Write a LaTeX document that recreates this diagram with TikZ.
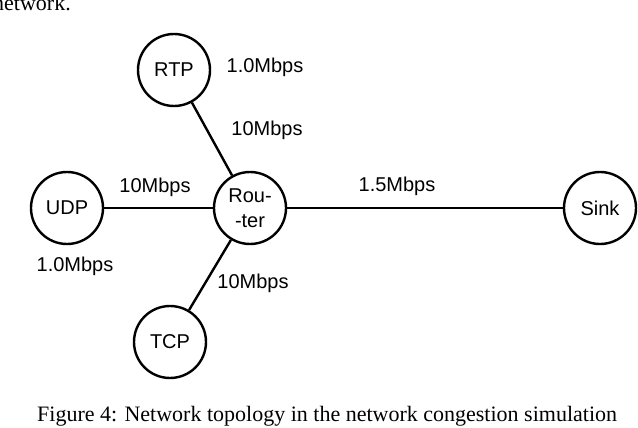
\documentclass[tikz,border=0pt]{standalone}
\usepackage{fontspec}
\setmainfont{Liberation Sans}
\newfontfamily\capfont{Liberation Serif}
\begin{document}
\begin{tikzpicture}[x=1pt,y=-1pt,
  host/.style={circle,draw,line width=2.4pt,minimum size=72pt,inner sep=0pt,font=\fontsize{20}{25}\selectfont,align=center},
  link/.style={line width=2.4pt},
  rate/.style={font=\fontsize{20}{24}\selectfont,inner sep=0pt},
  captext/.style={font=\capfont\fontsize{22}{26}\selectfont,inner sep=0pt}]
\useasboundingbox (0,0) rectangle (638,428);
\node[host] (rtp) at (174,70) {RTP};
\node[host] (udp) at (67,208) {UDP};
\node[host] (router) at (250,208) {Rou-\\-ter};
\node[host] (tcp) at (170,342) {TCP};
\node[host] (sink) at (600,208) {Sink};
\draw[link] (rtp) -- (router);
\draw[link] (udp) -- (router);
\draw[link] (tcp) -- (router);
\draw[link] (router) -- (sink);
\node[rate] (l1) at (265,67) {1.0Mbps};
\node[rate] (l2) at (267,130) {10Mbps};
\node[rate] (l3) at (155,187) {10Mbps};
\node[rate] (l4) at (75,266) {1.0Mbps};
\node[rate] (l5) at (397,186) {1.5Mbps};
\node[rate] (l6) at (253,283) {10Mbps};
\node[captext,anchor=base east] (prev) at (71,11) {network.};
\node[captext,anchor=base west] (caption) at (37,421) {Figure 4: Network topology in the network congestion simulation};
\end{tikzpicture}
\end{document}
